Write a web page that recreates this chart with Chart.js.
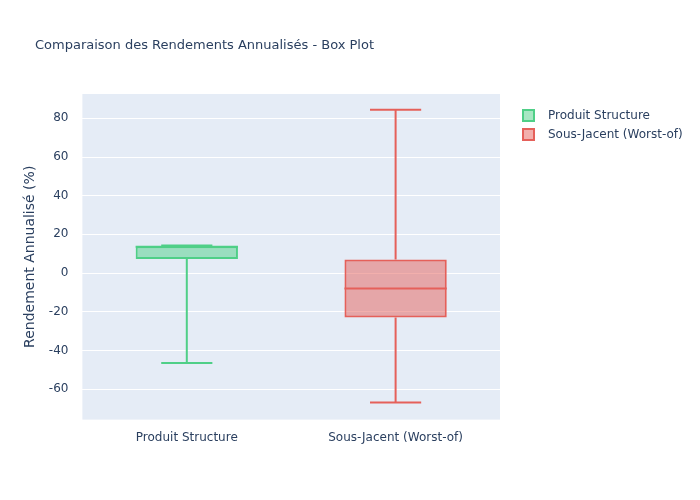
<!DOCTYPE html><html><head><script src="https://cdn.jsdelivr.net/npm/chart.js@4"></script>
<style>body{margin:0;background:#fff}#w{width:700px;height:500px;position:relative}</style></head><body><div id="w"><canvas id="c"></canvas></div>
<script>
const categories=["Produit Structure","Sous-Jacent (Worst-of)"];
const seriesNames=["Produit Structure","Sous-Jacent (Worst-of)"];
const mins=[-46.5,-67];
const q1s=[7.2,-23];
const medians=[13.6,-8];
const q3s=[13.8,7];
const maxs=[14.2,84.5];
const yTicks=[-60,-40,-20,0,20,40,60,80];
const lineColors=['#4fcf87','#e5605a'];
const fillColors=['rgba(79,207,135,0.5)','rgba(229,96,90,0.5)'];
const FONT='DejaVu Sans';
const datasets=seriesNames.map((n,i)=>({label:n,data:categories.map((c,j)=>j===i?[q1s[i],q3s[i]]:null),
 backgroundColor:fillColors[i],borderColor:lineColors[i],borderWidth:2,borderSkipped:false,grouped:false,barPercentage:0.49,categoryPercentage:1}));
const boxPlugin={id:'box',afterDatasetsDraw(ch){const ctx=ch.ctx,x=ch.scales.x,y=ch.scales.y;
 categories.forEach((c,i)=>{const cx=x.getPixelForValue(i),bw=(x.getPixelForValue(1)-x.getPixelForValue(0))*0.49,hw=bw/2,ww=bw/4;
 ctx.save();ctx.strokeStyle=lineColors[i];ctx.lineWidth=2;ctx.beginPath();
 ctx.moveTo(cx-hw,y.getPixelForValue(medians[i]));ctx.lineTo(cx+hw,y.getPixelForValue(medians[i]));
 ctx.moveTo(cx,y.getPixelForValue(q3s[i]));ctx.lineTo(cx,y.getPixelForValue(maxs[i]));
 ctx.moveTo(cx,y.getPixelForValue(q1s[i]));ctx.lineTo(cx,y.getPixelForValue(mins[i]));
 ctx.moveTo(cx-ww,y.getPixelForValue(maxs[i]));ctx.lineTo(cx+ww,y.getPixelForValue(maxs[i]));
 ctx.moveTo(cx-ww,y.getPixelForValue(mins[i]));ctx.lineTo(cx+ww,y.getPixelForValue(mins[i]));
 ctx.stroke();ctx.restore();});
 // title and legend
 ctx.save();ctx.fillStyle='#2a3f5f';ctx.textBaseline='middle';ctx.font='13px "'+FONT+'"';
 ctx.fillText('Comparaison des Rendements Annualisés - Box Plot',35,46);
 ctx.font='12px "'+FONT+'"';
 seriesNames.forEach((n,i)=>{const ly=115+i*19;ctx.fillStyle=fillColors[i];ctx.strokeStyle=lineColors[i];ctx.lineWidth=2;
  ctx.fillRect(523,ly-5,11,11);ctx.strokeRect(523,ly-5,11,11);ctx.fillStyle='#2a3f5f';ctx.fillText(n,548,ly+1);});
 ctx.restore();}};
const bgPlugin={id:'bg',beforeDraw(ch){const a=ch.chartArea;ch.ctx.save();ch.ctx.fillStyle='#e5ecf6';ch.ctx.fillRect(a.left,a.top,a.right-a.left,a.bottom-a.top);ch.ctx.restore();}};
new Chart(document.getElementById('c'),{type:'bar',data:{labels:categories,datasets},plugins:[bgPlugin,boxPlugin],
options:{responsive:true,maintainAspectRatio:false,animation:false,
layout:{padding:{left:18,right:200,top:94,bottom:52}},
plugins:{legend:{display:false},tooltip:{enabled:false}},
scales:{x:{grid:{display:false},border:{display:false},ticks:{color:'#2a3f5f',font:{family:FONT,size:12}}},
y:{min:-75.8,max:92.6,afterBuildTicks(s){s.ticks=yTicks.map(v=>({value:v}));},grid:{color:'#fff',lineWidth:1},border:{display:false},
ticks:{color:'#2a3f5f',font:{family:FONT,size:12},padding:6},
title:{display:true,text:'Rendement Annualisé (%)',color:'#2a3f5f',font:{family:FONT,size:14}}},
}}});
</script></body></html>
